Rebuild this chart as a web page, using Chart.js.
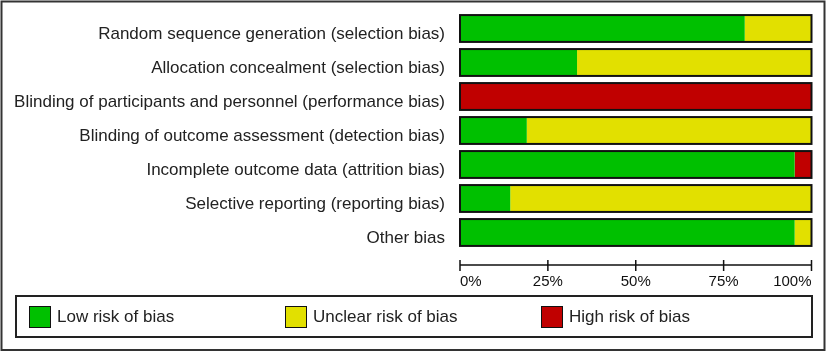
<!DOCTYPE html>
<html>
<head>
<meta charset="utf-8">
<script src="https://cdn.jsdelivr.net/npm/chart.js@4.4.1/dist/chart.umd.min.js"></script>
<style>
  body { margin: 0; background: #fff; }
  #wrap { position: relative; width: 829px; height: 353px; }
  #legend {
    position: absolute; left: 15px; top: 295px; width: 798px; height: 43px;
    box-sizing: border-box; border: 2px solid #222;
    font-family: "Liberation Sans", Arial, sans-serif; font-size: 17px; color: #222;
  }
  .item { position: absolute; top: 0; height: 39px; display: flex; align-items: center; }
  .swatch { width: 22px; height: 22px; box-sizing: border-box; border: 1.5px solid #111; margin-right: 6px; }
</style>
</head>
<body>
<div id="wrap">
  <canvas id="robChart"></canvas>
  <div id="legend"></div>
</div>
<script>
const categories = [
  "Random sequence generation (selection bias)",
  "Allocation concealment (selection bias)",
  "Blinding of participants and personnel (performance bias)",
  "Blinding of outcome assessment (detection bias)",
  "Incomplete outcome data (attrition bias)",
  "Selective reporting (reporting bias)",
  "Other bias",
];
const lowRisk = [81.0, 33.3, 0, 19.0, 95.2, 14.3, 95.2];
const unclearRisk = [19.0, 66.7, 0, 81.0, 0, 85.7, 4.8];
const highRisk = [0, 0, 100, 0, 4.8, 0, 0];
const tickLabels = ["0%", "25%", "50%", "75%", "100%"];

const seriesNames = ["Low risk of bias", "Unclear risk of bias", "High risk of bias"];
const seriesColors = ["#00c000", "#e2e000", "#c00000"];

// outline each whole bar, draw the detached x axis line and the frame
const robDecor = {
  id: "robDecor",
  afterDatasetsDraw(chart) {
    const ctx = chart.ctx;
    const x = chart.scales.x;
    const meta = chart.getDatasetMeta(0);
    ctx.save();
    ctx.strokeStyle = "#111";
    ctx.lineWidth = 2;
    meta.data.forEach((bar) => {
      const h = bar.height;
      const left = x.getPixelForValue(0);
      const right = x.getPixelForValue(100);
      ctx.strokeRect(left, bar.y - h / 2, right - left, h);
    });
    // axis
    const axisY = 265;
    ctx.lineWidth = 1.5;
    ctx.beginPath();
    ctx.moveTo(x.getPixelForValue(0), axisY);
    ctx.lineTo(x.getPixelForValue(100), axisY);
    x.ticks.forEach((t) => {
      const px = x.getPixelForValue(t.value);
      ctx.moveTo(px, axisY - 5);
      ctx.lineTo(px, axisY + 6);
    });
    ctx.stroke();
    // outer frame
    ctx.strokeStyle = "#333";
    ctx.lineWidth = 2;
    ctx.strokeRect(1.5, 1.5, 823, 348.5);
    ctx.restore();
  },
};

new Chart(document.getElementById("robChart").getContext("2d"), {
  type: "bar",
  data: {
    labels: categories,
    datasets: [lowRisk, unclearRisk, highRisk].map((d, i) => ({
      label: seriesNames[i],
      data: d,
      backgroundColor: seriesColors[i],
      borderWidth: 0,
      barPercentage: 0.79,
      categoryPercentage: 1,
    })),
  },
  options: {
    indexAxis: "y",
    responsive: true,
    maintainAspectRatio: false,
    animation: false,
    layout: { padding: { top: 11.5, left: 0, right: 17.5, bottom: 0 } },
    plugins: {
      legend: { display: false },
      tooltip: { enabled: false },
    },
    scales: {
      x: {
        stacked: true,
        min: 0,
        max: 100,
        grid: { display: false, drawTicks: false },
        border: { display: false },
        afterFit: (scale) => {
          scale.height = 103.5;
          scale.paddingLeft = 0;
          scale.paddingRight = 0;
        },
        ticks: {
          stepSize: 25,
          align: "inner",
          padding: 23,
          color: "#111",
          font: { family: "Liberation Sans", size: 15 },
          callback: (v, i) => tickLabels[i],
        },
      },
      y: {
        stacked: true,
        grid: { display: false, drawTicks: false },
        border: { display: false },
        afterFit: (scale) => {
          scale.width = 460;
          scale.paddingTop = 0;
          scale.paddingBottom = 0;
        },
        ticks: {
          padding: 15,
          labelOffset: 6,
          color: "#222",
          font: { family: "Liberation Sans", size: 17 },
        },
      },
    },
  },
  plugins: [robDecor],
});

const legendEl = document.getElementById("legend");
seriesNames.forEach((name, i) => {
  const item = document.createElement("div");
  item.className = "item";
  item.style.left = (12 + i * 256) + "px";
  const sw = document.createElement("span");
  sw.className = "swatch";
  sw.style.background = seriesColors[i];
  const txt = document.createElement("span");
  txt.textContent = name;
  item.appendChild(sw);
  item.appendChild(txt);
  legendEl.appendChild(item);
});
</script>
</body>
</html>
